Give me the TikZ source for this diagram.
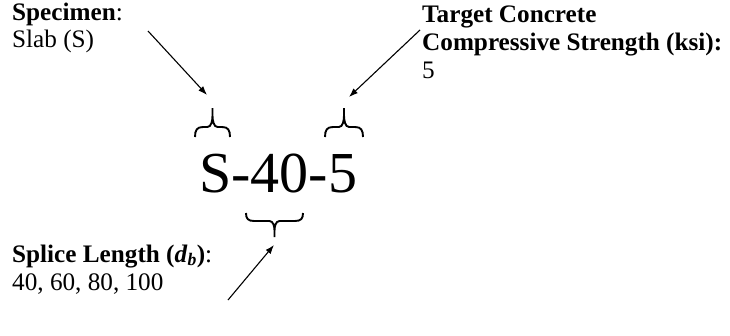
\documentclass[tikz,border=0pt]{standalone}
\usepackage{fontspec}
\setmainfont{Liberation Serif}
\usetikzlibrary{arrows.meta}
\newcommand\drawbrace[5]{% x0 x1 yend yarm ytip
  \pgfmathsetmacro\bxm{(#1+#2)/2}%
  \pgfmathsetmacro\bya{#4}%
  \pgfmathsetmacro\byc{#3+0.7*(#4-#3)}%
  \pgfmathsetmacro\bys{#4+0.35*(#5-#4)}%
  \pgfmathsetmacro\byt{#4+0.6*(#5-#4)}%
  \draw[bracestyle] (#1,#3) .. controls (#1,\byc) and (#1+2,\bya) .. (#1+8,\bya)
    -- (\bxm-5,\bya) .. controls (\bxm-1.2,\bya) and (\bxm,\bys) .. (\bxm,\byt) -- (\bxm,#5)
    (\bxm,\byt) .. controls (\bxm,\bys) and (\bxm+1.2,\bya) .. (\bxm+5,\bya)
    -- (#2-8,\bya) .. controls (#2-2,\bya) and (#2,\byc) .. (#2,#3);
}
\begin{document}
\begin{tikzpicture}[x=1pt,y=-1pt,
  lbl/.style={anchor=base west,inner sep=0pt,font=\fontsize{25.2}{29}\selectfont},
  bracestyle/.style={line width=1.9pt,line cap=butt},
  arr/.style={line width=1.1pt,-{Latex[length=9pt,width=6.5pt]}}]
\useasboundingbox (0,0) rectangle (730,335);
% labels
\node[lbl] (spec1) at (12,20) {\textbf{Specimen}:};
\node[lbl] (spec2) at (12,47) {Slab (S)};
\node[lbl] (tc1) at (422,22) {\textbf{Target Concrete}};
\node[lbl] (tc2) at (422,50) {\textbf{Compressive Strength (ksi):}};
\node[lbl] (tc3) at (422,78) {5};
\node[lbl] (sl1) at (12,262) {\textbf{Splice Length (\textit{d}\textsubscript{\textit{b}})}:};
\node[lbl] (sl2) at (12,290) {40, 60, 80, 100};
% main code
\node[anchor=base west,inner sep=0pt,font=\fontsize{58}{60}\selectfont] (code) at (199,192) {S-40-5};
% braces
\drawbrace{195}{230}{137}{127}{108}
\drawbrace{325}{363}{137}{127}{108}
\drawbrace{246}{303}{213}{221}{237}
% arrow ends
\coordinate (a1s) at (148,31);
\coordinate (a1e) at (207,95);
\coordinate (a2s) at (420,30);
\coordinate (a2e) at (349,97);
\coordinate (a3s) at (228,300);
\coordinate (a3e) at (274,245);
\draw[arr] (a1s) -- (a1e);
\draw[arr] (a2s) -- (a2e);
\draw[arr] (a3s) -- (a3e);
\end{tikzpicture}
\end{document}
